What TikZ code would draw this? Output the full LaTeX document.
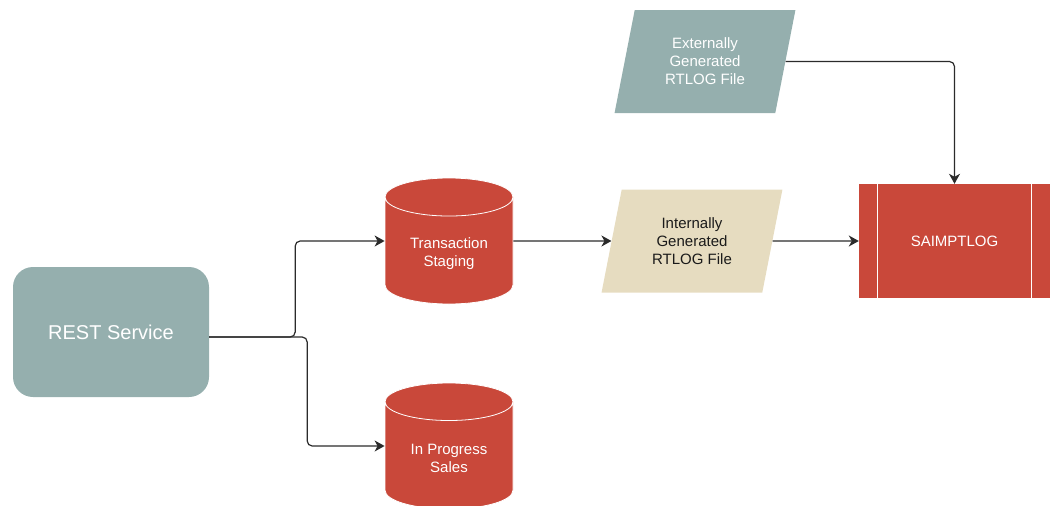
\documentclass[tikz,border=0pt]{standalone}
\usepackage{fontspec}
\setmainfont{Liberation Sans}
\usetikzlibrary{shapes.geometric,arrows.meta}
\definecolor{slate}{HTML}{95AFAE}
\definecolor{brick}{HTML}{C9483A}
\definecolor{sand}{HTML}{E6DCC0}
\definecolor{wire}{HTML}{2B2B2B}
\definecolor{ink}{HTML}{1A1A1A}
\tikzset{
  service/.style={rectangle, rounded corners=20pt, fill=slate, text=white,
    minimum width=196pt, minimum height=130pt, font=\fontsize{20}{24}\selectfont},
  store/.style={cylinder, shape border rotate=90, aspect=0.45, draw=white,
    line width=0.8pt, fill=brick, text=white, minimum width=128pt,
    minimum height=126pt, align=center, font=\fontsize{15}{18}\selectfont},
  datafile/.style={trapezium, trapezium left angle=77, trapezium right angle=103,
    trapezium stretches=true, minimum width=181pt, minimum height=103pt,
    align=center, font=\fontsize{15}{18}\selectfont},
  job/.style={rectangle, fill=brick, text=white, minimum width=191pt,
    minimum height=114pt, font=\fontsize{15}{18}\selectfont},
  flow/.style={draw=wire, line width=1.2pt, rounded corners=5pt,
    -{Stealth[length=10pt,width=11pt,inset=3pt]}}
}
\begin{document}
\begin{tikzpicture}[x=1pt, y=-1pt]
        \useasboundingbox (0,0) rectangle (1050,506);

        \node[service] (rest) at (111,332) {REST Service};
        \node[store, anchor=shape center] (ts) at (449,241) {Transaction\\Staging};
        \node[store, anchor=shape center] (ips) at (449,446) {In Progress\\Sales};
        \node[datafile, fill=sand, text=ink] (int) at (692,241) {Internally\\Generated\\RTLOG File};
        \node[datafile, fill=slate, text=white] (ext) at (705,61.5) {Externally\\Generated\\RTLOG File};
        \node[job] (sai) at (954.5,241) {SAIMPTLOG};

        \draw[white, line width=.8pt] ([xshift=19pt]sai.north west) -- ([xshift=19pt]sai.south west);
        \draw[white, line width=.8pt] ([xshift=-19pt]sai.north east) -- ([xshift=-19pt]sai.south east);

        \draw[flow] ([yshift=-5pt]rest.east) -- ++(86,0) |- (ts.shape center -| ts.west);
        \draw[flow] ([yshift=-5pt]rest.east) -- ++(98,0) |- (ips.shape center -| ips.west);
        \draw[flow] (ts.shape center -| ts.east) -- (int.west);
        \draw[flow] (int.east) -- (sai.west);
        \draw[flow] (ext.east) -| (sai.north);
    \end{tikzpicture}
\end{document}
